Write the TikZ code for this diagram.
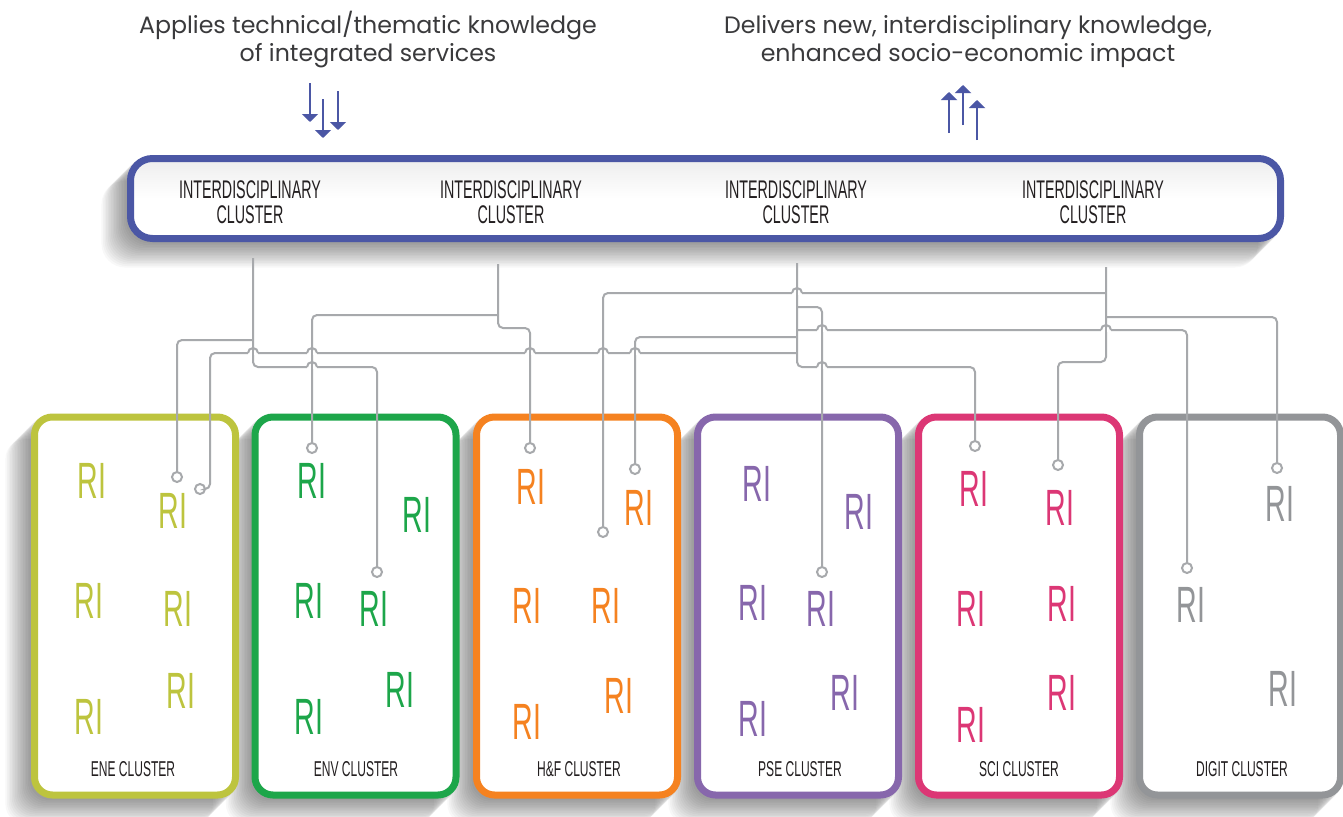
\documentclass[tikz,border=0pt]{standalone}
\usepackage{fontspec}
\setmainfont{Poppins}
\newfontfamily\cond[FakeStretch=0.56]{Liberation Sans}
\usetikzlibrary{arrows.meta}
\definecolor{iblue}{HTML}{4B57A5}
\definecolor{cene}{HTML}{BDC43E}
\definecolor{cenv}{HTML}{1DA64A}
\definecolor{chf}{HTML}{F58220}
\definecolor{cpse}{HTML}{8767AC}
\definecolor{csci}{HTML}{DC3775}
\definecolor{cdig}{HTML}{939598}
\definecolor{cline}{HTML}{A7A9AC}
\definecolor{ctext}{HTML}{231F20}
\definecolor{ctitle}{HTML}{3A3A3C}
\newcommand\boxshadow[5]{%
  \foreach \k in {1,...,16}{\fill[black,opacity=0.028,rounded corners=#5pt] ({#1-\k*1.6},{#2+\k*1.6}) rectangle ({#3-\k*1.6},{#4+\k*1.6});}}
\newcommand\hopat[2]{%
  \fill[white] ({#1-4.6},{#2-1.7}) rectangle ({#1+4.6},{#2+1.7});
  \draw[draw=cline,line width=2pt] (#1,{#2-3}) -- (#1,{#2+3});
  \draw[draw=cline,line width=2pt] ({#1-5},#2) arc[start angle=180,end angle=0,radius=5pt];}
\tikzset{
  clbox/.style={draw, line width=7pt, rounded corners=18pt, fill=white, minimum width=201pt, minimum height=378pt, inner sep=0pt},
  topbox/.style={draw=iblue, line width=7pt, rounded corners=22pt, inner sep=0pt, top color=black!7, bottom color=white, middle color=white, minimum width=1150pt, minimum height=80pt},
  ri/.style={font=\cond\fontsize{51}{51}\selectfont, inner sep=0pt},
  cllabel/.style={font=\cond\fontsize{21.5}{21.5}\selectfont, text=ctext, inner sep=0pt},
  idlabel/.style={font=\cond\fontsize{25.5}{23}\selectfont, text=ctext, inner sep=0pt},
  titletext/.style={font=\fontsize{23.7}{28}\selectfont, text=ctitle, inner sep=0pt, anchor=base},
  conn/.style={draw=cline, line width=2pt, rounded corners=5pt},
  pin/.style={circle, draw=cline, line width=2pt, fill=white, minimum size=10pt, inner sep=0pt},
  arrowline/.style={draw=iblue, line width=2pt, -{Triangle[width=16pt,length=8pt]}},
}
\begin{document}
\begin{tikzpicture}[x=1pt,y=-1pt]
\useasboundingbox (0,0) rectangle (1343,816);
\fill[white] (0,0) rectangle (1343,816);

% titles
\node[titletext] (tA1) at (368,34) {Applies technical/thematic knowledge};
\node[titletext] (tA2) at (368,62) {of integrated services};
\node[titletext] (tB1) at (968,34) {Delivers new, interdisciplinary knowledge,};
\node[titletext] (tB2) at (968,62) {enhanced socio-economic impact};

% arrows
\coordinate (da1) at (310,83);  \coordinate (db1) at (310,122);
\coordinate (da2) at (323,99);  \coordinate (db2) at (323,138);
\coordinate (da3) at (338,91);  \coordinate (db3) at (338,130);
\draw[arrowline] (da1) -- (db1);
\draw[arrowline] (da2) -- (db2);
\draw[arrowline] (da3) -- (db3);
\coordinate (ua1) at (949,133); \coordinate (ub1) at (949,92);
\coordinate (ua2) at (963,125); \coordinate (ub2) at (963,85);
\coordinate (ua3) at (977,140); \coordinate (ub3) at (977,100);
\draw[arrowline] (ua1) -- (ub1);
\draw[arrowline] (ua2) -- (ub2);
\draw[arrowline] (ua3) -- (ub3);

% shadows
\boxshadow{127}{155}{1284}{242}{24}
\boxshadow{31}{413.5}{238.5}{798.5}{20}
\boxshadow{251.5}{413.5}{459.5}{798.5}{20}
\boxshadow{473}{413.5}{681}{798.5}{20}
\boxshadow{694}{413.5}{902}{798.5}{20}
\boxshadow{915}{413.5}{1123}{798.5}{20}
\boxshadow{1136}{413.5}{1344}{798.5}{20}

% top box
\node[topbox] (top) at (705.5,198.5) {};
\foreach \nm/\xx in {1/250, 2/511, 3/796, 4/1093}{
  \node[idlabel, anchor=base] (id\nm a) at (\xx,198) {INTERDISCIPLINARY};
  \node[idlabel, anchor=base] (id\nm b) at (\xx,223) {CLUSTER};
}

% cluster boxes
\node[clbox, draw=cene] (ene) at (135,606) {};
\node[clbox, draw=cenv] (env) at (355.5,606) {};
\node[clbox, draw=chf]  (hf)  at (577,606) {};
\node[clbox, draw=cpse] (pse) at (798,606) {};
\node[clbox, draw=csci] (sci) at (1019,606) {};
\node[clbox, draw=cdig] (dig) at (1240,606) {};

\node[cllabel] (lene) at (133,769.5) {ENE CLUSTER};
\node[cllabel] (lenv) at (356,769.5) {ENV CLUSTER};
\node[cllabel] (lhf)  at (579,769.5) {H\&F CLUSTER};
\node[cllabel] (lpse) at (800,769.5) {PSE CLUSTER};
\node[cllabel] (lsci) at (1019,769.5) {SCI CLUSTER};
\node[cllabel] (ldig) at (1242,769.5) {DIGIT CLUSTER};

% RI labels
\node[ri, text=cene] (e1) at (92,481) {RI};
\node[ri, text=cene] (e2) at (173,511) {RI};
\node[ri, text=cene] (e3) at (89,601) {RI};
\node[ri, text=cene] (e4) at (178,609) {RI};
\node[ri, text=cene] (e5) at (89,717) {RI};
\node[ri, text=cene] (e6) at (181,691) {RI};

\node[ri, text=cenv] (n1) at (312,481) {RI};
\node[ri, text=cenv] (n2) at (417,515) {RI};
\node[ri, text=cenv] (n3) at (309,601) {RI};
\node[ri, text=cenv] (n4) at (374,609) {RI};
\node[ri, text=cenv] (n5) at (309,717) {RI};
\node[ri, text=cenv] (n6) at (400,690) {RI};

\node[ri, text=chf] (f1) at (531,487) {RI};
\node[ri, text=chf] (f2) at (639,508) {RI};
\node[ri, text=chf] (f3) at (527,606) {RI};
\node[ri, text=chf] (f4) at (606,606) {RI};
\node[ri, text=chf] (f5) at (527,722) {RI};
\node[ri, text=chf] (f6) at (619,696) {RI};

\node[ri, text=cpse] (q1) at (757,484) {RI};
\node[ri, text=cpse] (q2) at (859,512) {RI};
\node[ri, text=cpse] (q3) at (753,603) {RI};
\node[ri, text=cpse] (q4) at (821,609) {RI};
\node[ri, text=cpse] (q5) at (753,719) {RI};
\node[ri, text=cpse] (q6) at (845,693) {RI};

\node[ri, text=csci] (s1r) at (974,489) {RI};
\node[ri, text=csci] (s2r) at (1060,508) {RI};
\node[ri, text=csci] (s3r) at (971,609) {RI};
\node[ri, text=csci] (s4r) at (1062,604) {RI};
\node[ri, text=csci] (s5r) at (971,725) {RI};
\node[ri, text=csci] (s6r) at (1062,693) {RI};

\node[ri, text=cdig] (g1) at (1280,504) {RI};
\node[ri, text=cdig] (g2) at (1191,605) {RI};
\node[ri, text=cdig] (g3) at (1283,689) {RI};

% connector origins
\coordinate (t1) at (253,258);
\coordinate (t2) at (498,264);
\coordinate (t3) at (797,263);
\coordinate (t4) at (1106,267);

% pins
\node[pin] (a1) at (177,477) {};
\node[pin] (a2) at (200,489) {};
\node[pin] (v1) at (312,448) {};
\node[pin] (v2) at (377,572) {};
\node[pin] (h1) at (530,448) {};
\node[pin] (h2) at (635,469) {};
\node[pin] (h3) at (603,532) {};
\node[pin] (p1) at (822,572) {};
\node[pin] (s1) at (975,446) {};
\node[pin] (s2) at (1058,465) {};
\node[pin] (d1) at (1277,468) {};
\node[pin] (d2) at (1187,568) {};

% connectors
\draw[conn] (t1) -- (253,367) -| (v2.north);
\draw[conn] (253,340) -| (a1.north);
\draw[conn] (t2) -- (498,328) -| (h1.north);
\draw[conn] (498,315) -| (v1.north);
\draw[conn] (t3) -- (797,367) -| (s1.north);
\draw[conn] (797,307) -| (p1.north);
\draw[conn] (797,330) -| (d2.north);
\draw[conn] (797,337) -| (h2.north);
\draw[conn] (797,353) -- (210,353) |- (a2.east);
\draw[conn] (t4) -- (1106,362) -| (s2.north);
\draw[conn] (1106,293) -| (h3.north);
\draw[conn] (1106,317) -| (d1.north);

% hops
\hopat{797}{293}
\hopat{822}{330}
\hopat{1106}{330}
\hopat{253}{353}
\hopat{312}{353}
\hopat{530}{353}
\hopat{603}{353}
\hopat{635}{353}
\hopat{312}{367}
\hopat{822}{367}
\end{tikzpicture}
\end{document}
